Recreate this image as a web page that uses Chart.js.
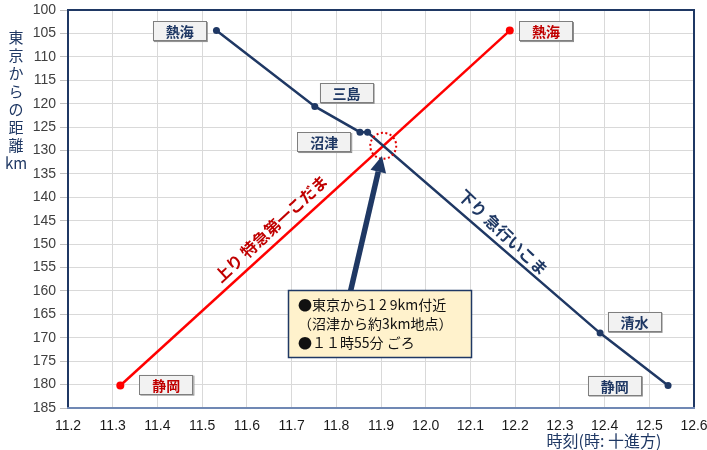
<!DOCTYPE html>
<html>
<head>
<meta charset="utf-8">
<script src="https://cdn.jsdelivr.net/npm/chart.js@4"></script>
<style>
html,body{margin:0;padding:0;background:#fff;}
#wrap{width:707px;height:450px;position:relative;}
</style>
</head>
<body>
<div id="wrap"><canvas id="c" width="707" height="450"></canvas></div>
<script>
// ---- data ----
const downX = [11.532, 11.752, 11.853, 11.870, 12.390, 12.542];
const downY = [104.4, 120.6, 126.1, 126.1, 169.0, 180.2];
const upX = [11.317, 12.188];
const upY = [180.2, 104.4];
const xTicks = [11.2, 11.3, 11.4, 11.5, 11.6, 11.7, 11.8, 11.9, 12.0, 12.1, 12.2, 12.3, 12.4, 12.5, 12.6];
const yTicks = [100, 105, 110, 115, 120, 125, 130, 135, 140, 145, 150, 155, 160, 165, 170, 175, 180, 185];

// station label boxes: [text, x, y, series]
const stationLabels = [
  ['熱海', 11.450, 104.5, 'down'],
  ['三島', 11.823, 117.7, 'down'],
  ['沼津', 11.773, 128.2, 'down'],
  ['清水', 12.467, 166.6, 'down'],
  ['静岡', 12.423, 180.2, 'down'],
  ['熱海', 12.269, 104.5, 'up'],
  ['静岡', 11.420, 180.0, 'up']
];
const trainNames = [
  ['上り 特急第一こだま', 11.654, 146.7, -43.0, 'up'],
  ['下り 急行いこま', 12.173, 147.5, 43.5, 'down']
];
const noteLines = ['●東京から1 2 9km付近', '（沼津から約3km地点）', '●１１時55分 ごろ'];
const noteBox = {x: 11.898, y: 167.0};
const arrowFrom = {x: 11.832, y: 160.0};
const arrowTo = {x: 11.902, y: 131.2};
const crossMark = {x: 11.905, y: 129.0};

const NAVY = '#1f3864';
const RED = '#ff0000';
const JP = '"Noto Sans CJK JP", "Noto Sans", sans-serif';
const LAT = '"Liberation Sans", Arial, sans-serif';

const overlay = {
  id: 'overlay',
  afterDatasetsDraw(chart) {
    const ctx = chart.ctx;
    const xs = chart.scales.x, ys = chart.scales.y;
    const px = v => xs.getPixelForValue(v);
    const py = v => ys.getPixelForValue(v);
    const a = chart.chartArea;

    // plot frame
    ctx.save();
    ctx.lineWidth = 2;
    ctx.strokeStyle = NAVY;
    ctx.beginPath();
    ctx.moveTo(a.left, a.bottom);
    ctx.lineTo(a.left, a.top);
    ctx.lineTo(a.right, a.top);
    ctx.lineTo(a.right, a.bottom);
    ctx.stroke();
    ctx.strokeStyle = '#7088b4';
    ctx.beginPath();
    ctx.moveTo(a.left - 1, a.bottom);
    ctx.lineTo(a.right + 1, a.bottom);
    ctx.stroke();
    ctx.restore();

    // station labels
    stationLabels.forEach(([t, x, y, s]) => {
      const cx = px(x), cy = py(y);
      const w = 54, h = 20;
      ctx.save();
      ctx.fillStyle = '#8c8c8c';
      ctx.fillRect(cx - w / 2 + 1, cy - h / 2 + 1, w, h);
      ctx.fillStyle = '#f2f2f2';
      ctx.fillRect(cx - w / 2, cy - h / 2, w, h);
      ctx.strokeStyle = '#7f7f7f';
      ctx.lineWidth = 1;
      ctx.strokeRect(Math.round(cx - w / 2) + 0.5, Math.round(cy - h / 2) + 0.5, w - 1, h - 1);
      ctx.fillStyle = s === 'up' ? '#c00000' : NAVY;
      ctx.font = 'bold 14px ' + JP;
      ctx.textAlign = 'center';
      ctx.textBaseline = 'middle';
      ctx.fillText(t, cx, cy + 1);
      ctx.restore();
    });

    // train names (rotated)
    trainNames.forEach(([t, x, y, ang, s]) => {
      ctx.save();
      ctx.translate(px(x), py(y));
      ctx.rotate(ang * Math.PI / 180);
      ctx.fillStyle = s === 'up' ? '#c00000' : NAVY;
      ctx.font = 'bold 16px ' + JP;
      ctx.textAlign = 'center';
      ctx.textBaseline = 'middle';
      ctx.fillText(t, 0, 0);
      ctx.restore();
    });

    // dotted circle at the crossing
    ctx.save();
    ctx.strokeStyle = '#e00000';
    ctx.lineWidth = 2;
    ctx.setLineDash([2, 2.5]);
    ctx.beginPath();
    ctx.arc(px(crossMark.x), py(crossMark.y), 13, 0, Math.PI * 2);
    ctx.stroke();
    ctx.restore();

    // arrow
    {
      const x1 = px(arrowFrom.x), y1 = py(arrowFrom.y);
      const x2 = px(arrowTo.x), y2 = py(arrowTo.y);
      const ang = Math.atan2(y2 - y1, x2 - x1);
      const headLen = 16, headW = 8;
      const bx = x2 - headLen * Math.cos(ang), by = y2 - headLen * Math.sin(ang);
      ctx.save();
      ctx.strokeStyle = NAVY;
      ctx.fillStyle = NAVY;
      ctx.lineWidth = 5.5;
      ctx.beginPath();
      ctx.moveTo(x1, y1);
      ctx.lineTo(bx, by);
      ctx.stroke();
      const nx = -Math.sin(ang), ny = Math.cos(ang);
      ctx.beginPath();
      ctx.moveTo(x2, y2);
      ctx.lineTo(bx + nx * headW, by + ny * headW);
      ctx.lineTo(bx - nx * headW, by - ny * headW);
      ctx.closePath();
      ctx.fill();
      ctx.restore();
    }

    // note box
    {
      const cx = px(noteBox.x), cy = py(noteBox.y);
      const w = 184, h = 68;
      const l = Math.round(cx - w / 2), t = Math.round(cy - h / 2);
      ctx.save();
      ctx.fillStyle = '#fff2cc';
      ctx.fillRect(l, t, w, h);
      ctx.strokeStyle = NAVY;
      ctx.lineWidth = 1.5;
      ctx.strokeRect(l + 0.5, t + 0.5, w - 1, h - 1);
      ctx.fillStyle = '#111';
      ctx.font = '14px ' + JP;
      ctx.textAlign = 'left';
      ctx.textBaseline = 'middle';
      noteLines.forEach((s, i) => ctx.fillText(s, l + 10, t + 15 + i * 19));
      ctx.restore();
    }

    // axis titles
    ctx.save();
    ctx.fillStyle = NAVY;
    ctx.font = '15px ' + JP;
    ctx.textAlign = 'center';
    ctx.textBaseline = 'middle';
    const yt = ['東', '京', 'か', 'ら', 'の', '距', '離', 'km'];
    yt.forEach((c, i) => ctx.fillText(c, 16, 37 + i * 18));
    ctx.font = '16px ' + JP;
    ctx.fillText('時刻(時: 十進方)', 604, 441);
    ctx.restore();
  }
};

new Chart(document.getElementById('c'), {
  type: 'scatter',
  data: {
    datasets: [
      {
        label: '下り急行いこま',
        data: downX.map((x, i) => ({x, y: downY[i]})),
        showLine: true,
        borderColor: NAVY,
        backgroundColor: NAVY,
        borderWidth: 2.5,
        pointRadius: 3.5,
        pointBorderWidth: 0
      },
      {
        label: '上り特急第一こだま',
        data: upX.map((x, i) => ({x, y: upY[i]})),
        showLine: true,
        borderColor: RED,
        backgroundColor: RED,
        borderWidth: 2.5,
        pointRadius: 4,
        pointBorderWidth: 0
      }
    ]
  },
  options: {
    responsive: false,
    animation: false,
    events: [],
    layout: {padding: {top: 10, right: 13, left: 0, bottom: 0}},
    plugins: {legend: {display: false}, tooltip: {enabled: false}, title: {display: false}},
    scales: {
      x: {
        type: 'linear',
        min: xTicks[0],
        max: xTicks[xTicks.length - 1],
        afterBuildTicks: s => { s.ticks = xTicks.map(v => ({value: v})); },
        afterFit: s => { s.height = 42; s.paddingLeft = 0; s.paddingRight = 0; },
        border: {display: false},
        grid: {color: '#d9d9d9', lineWidth: 1, drawTicks: false},
        ticks: {
          padding: 10,
          color: '#1a1a1a',
          font: {family: LAT, size: 14},
          callback: v => Number(v).toFixed(1),
          maxRotation: 0,
          autoSkip: false
        }
      },
      y: {
        type: 'linear',
        reverse: true,
        min: yTicks[0],
        max: yTicks[yTicks.length - 1],
        afterBuildTicks: s => { s.ticks = yTicks.map(v => ({value: v})); },
        afterFit: s => { s.width = 68; s.paddingTop = 0; s.paddingBottom = 0; },
        border: {display: false},
        grid: {color: '#d9d9d9', lineWidth: 1, tickLength: 8, tickColor: '#bfbfbf'},
        ticks: {
          padding: 4,
          color: '#404040',
          font: {family: LAT, size: 14},
          autoSkip: false
        }
      }
    }
  },
  plugins: [overlay]
});
</script>
</body>
</html>
